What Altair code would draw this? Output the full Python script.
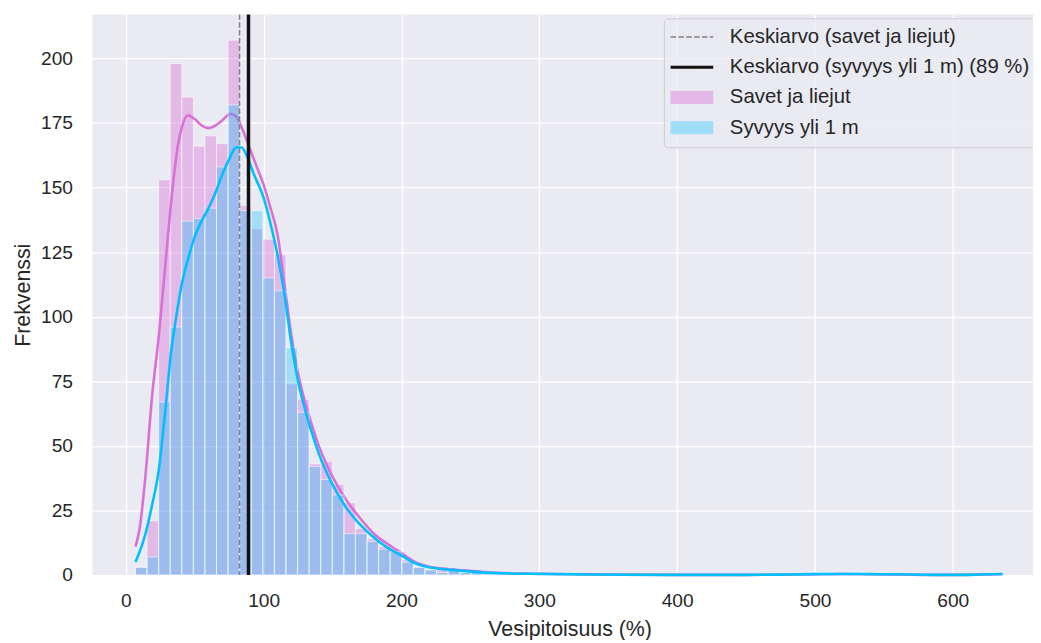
import altair as alt
import pandas as pd

# ---------------- data ----------------
series_labels = ["Savet ja liejut", "Syvyys yli 1 m"]
mean_labels = ["Keskiarvo (savet ja liejut)", "Keskiarvo (syvyys yli 1 m) (89 %)"]
mean_values = [82.5, 89.0]

bin_width = 8.4
first_bin_start = 7.0

savet_counts = [
    3, 21, 153, 198, 185, 166, 170, 167, 207, 143,
    134, 130, 124, 74, 68, 43, 44, 35, 28, 18,
    14, 11, 9, 6, 3, 2, 2, 2, 1, 1,
    1, 1, 1, 0, 1, 0, 1, 0, 0, 1,
    0, 0, 0, 0, 0, 0, 0, 0, 0, 0,
    0, 0, 0, 0, 0, 0, 0, 1, 0, 1,
    0, 0, 1, 0, 0, 0, 0, 0, 0, 0,
    0, 0, 0, 0, 1,
]
syvyys_counts = [
    3, 7, 67, 96, 137, 138, 142, 158, 182, 141,
    141, 115, 110, 88, 63, 42, 37, 31, 16, 16,
    13, 10, 9, 5, 3, 2, 1, 2, 1, 1,
    1, 0, 1, 0, 1, 0, 0, 1, 0, 0,
    0, 0, 0, 0, 0, 0, 0, 0, 0, 0,
    0, 0, 0, 0, 0, 0, 0, 1, 0, 1,
    0, 0, 1, 0, 0, 0, 0, 0, 0, 0,
    0, 0, 0, 0, 1,
]

savet_kde_x = [7, 10, 14, 19, 24, 28.5, 33, 38, 41, 45, 50, 55, 60, 65, 70, 76, 80, 85,
               90, 95, 100, 105, 110, 115, 120, 125, 130, 135, 140, 150, 160, 170, 180,
               190, 200, 210, 220, 230, 245, 260, 280, 300, 330, 360, 400, 450, 480, 500,
               520, 540, 570, 600, 620, 636]
savet_kde_y = [11, 18, 37, 69, 93, 119, 145, 167, 174, 178, 176.5, 174, 173, 174, 176,
               178.5, 177.5, 172, 165, 158, 151, 142, 132, 113, 93, 78, 67, 58, 50, 38,
               29, 22, 16, 12, 8.5, 5, 3.2, 2.5, 1.8, 1.2, 0.7, 0.5, 0.3, 0.15, 0.05,
               0.05, 0.15, 0.3, 0.4, 0.3, 0.1, 0.05, 0.2, 0.35]

syvyys_kde_x = [7, 14, 19, 24, 28.5, 33, 36, 40, 45, 50, 55, 60, 65, 70, 75, 80, 84, 88,
                93, 100, 105, 110, 115, 120, 125, 130, 135, 140, 150, 160, 170, 180, 190,
                200, 210, 220, 230, 245, 260, 280, 300, 330, 360, 400, 450, 480, 500, 520,
                540, 560, 580, 600, 620, 636]
syvyys_kde_y = [5, 15.5, 27, 41, 63, 87, 98, 111, 122, 131, 137, 142, 148, 155, 161,
                165.5, 165.5, 162, 155, 146, 136, 124, 109, 90, 75, 64, 55, 47, 35, 26,
                19.5, 14.5, 10.5, 7.5, 4.5, 3, 2.3, 1.6, 1.0, 0.6, 0.45, 0.25, 0.1, 0.05,
                0.05, 0.2, 0.35, 0.4, 0.35, 0.3, 0.1, 0.05, 0.2, 0.4]

x_ticks = [0, 100, 200, 300, 400, 500, 600]
y_ticks = [0, 25, 50, 75, 100, 125, 150, 175, 200]

# ---------------- tables ----------------
rows = []
for name, counts in zip(series_labels, [savet_counts, syvyys_counts]):
    for k, c in enumerate(counts):
        if c > 0:
            rows.append({"series": name,
                         "start": first_bin_start + k * bin_width,
                         "end": first_bin_start + (k + 1) * bin_width,
                         "count": c})
hist = pd.DataFrame(rows)
kde_savet = pd.DataFrame({"x": savet_kde_x, "y": savet_kde_y})
kde_syvyys = pd.DataFrame({"x": syvyys_kde_x, "y": syvyys_kde_y})
means = pd.DataFrame({"name": mean_labels, "value": mean_values})

PINK = "#da70d6"
BLUE = "#00bfff"
FONT = "Liberation Sans"
TXT = "#262626"

L1, L2 = mean_labels
P1, P2 = series_labels
legend_order = mean_labels + series_labels
stroke_scale = alt.Scale(domain=legend_order,
                         range=["#808080", "#111111", "transparent", "transparent"])
fill_scale = alt.Scale(domain=legend_order,
                       range=["transparent", "transparent",
                              "rgba(218,112,214,0.42)", "rgba(0,191,255,0.32)"])
dash_scale = alt.Scale(domain=legend_order, range=[[5.5, 2.4], [1, 0], [1, 0], [1, 0]])
width_scale = alt.Scale(type="point", domain=mean_labels, range=[1.5, 3.5], padding=0)

is_patch = f"indexof(['{P1}','{P2}'], datum.value) >= 0"
legend = alt.Legend(
    title=None, orient="none", legendX=576, legendY=4,
    symbolSize=144, symbolOffset=9.5, labelOffset=28, padding=8.5, rowPadding=9.5,
    labelFont=FONT, labelFontSize=20.5, labelColor=TXT, labelLimit=400,
    fillColor="rgba(234,234,242,0.8)", strokeColor="#cccccc", cornerRadius=4,
    symbolType=alt.ExprRef(expr=f"({is_patch}) ? 'M-3.58,-1.08H3.58V1.08H-3.58Z' : 'M-3.58,0H3.58'"),
    symbolStrokeWidth=alt.ExprRef(expr=f"(datum.value == '{L1}' ? 1.5 : datum.value == '{L2}' ? 3 : 0)"),
    symbolFillColor="transparent",
    symbolOpacity=1,
)

x_scale = alt.Scale(domain=[-24.3, 658.2], nice=False, zero=False)
y_scale = alt.Scale(domain=[0, 217], nice=False)
x_axis = alt.Axis(values=x_ticks, title="Vesipitoisuus (%)", labelPadding=17,
                  titlePadding=8, titleX=481, format="d")
y_axis = alt.Axis(values=y_ticks, title="Frekvenssi", labelPadding=20, titlePadding=6,
                  format="d")


def bars(name, color, opacity):
    return alt.Chart(hist).transform_filter(alt.datum.series == name).mark_bar(
        fill=color, fillOpacity=opacity, stroke="white", strokeWidth=1, strokeOpacity=0.55
    ).encode(
        x=alt.X("start:Q", scale=x_scale, axis=x_axis),
        x2="end:Q",
        y=alt.Y("count:Q", scale=y_scale, axis=y_axis, stack=None),
        y2=alt.datum(0),
    )


def kde(df, color):
    return alt.Chart(df).mark_line(color=color, strokeWidth=2.6, interpolate="monotone").encode(
        x=alt.X("x:Q", scale=x_scale),
        y=alt.Y("y:Q", scale=y_scale),
    )


rules = alt.Chart(means).mark_rule().encode(
    x=alt.X("value:Q", scale=x_scale),
    color=alt.Color("name:N", scale=stroke_scale, legend=legend),
    fill=alt.Fill("name:N", scale=fill_scale, legend=legend),
    strokeDash=alt.StrokeDash("name:N", scale=dash_scale, legend=legend),
    strokeWidth=alt.StrokeWidth("name:N", scale=width_scale, legend=None),
)

chart = alt.layer(
    bars(P1, PINK, 0.4),
    kde(kde_savet, PINK),
    bars(P2, BLUE, 0.3),
    kde(kde_syvyys, BLUE),
    rules,
).properties(
    width=948, height=565,
    autosize=alt.AutoSizeParams(type="none"),
    padding={"left": 85, "top": 4, "right": 0, "bottom": 63},
    background="white",
).configure_view(
    fill="#eaeaf2", stroke=None
).configure_axis(
    grid=True, gridColor="white", gridWidth=1.3, domain=False, ticks=False, tickSize=0,
    labelFont=FONT, labelFontSize=19.3, labelColor=TXT,
    titleFont=FONT, titleFontSize=21.5, titleColor=TXT, titleFontWeight="normal",
)

chart.save("out.html", embed_options={"renderer": "svg", "actions": False})
